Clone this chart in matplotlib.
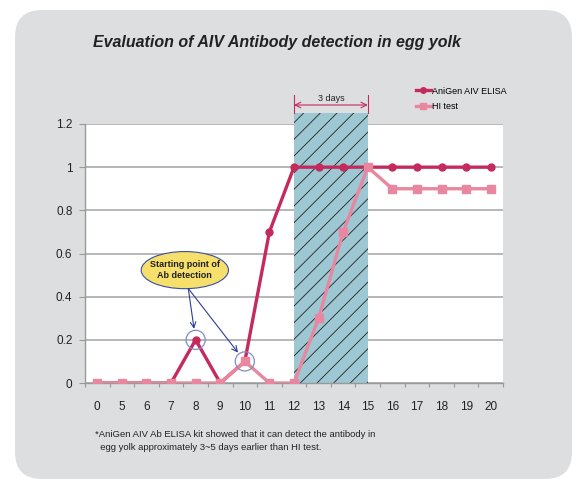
import numpy as np
import matplotlib.pyplot as plt
from matplotlib.patches import FancyBboxPatch, Ellipse, Rectangle

plt.rcParams['font.family'] = ['Liberation Sans', 'DejaVu Sans']
plt.rcParams['hatch.linewidth'] = 0.6

# data
days = ['0', '5', '6', '7', '8', '9', '10', '11', '12', '13', '14', '15',
        '16', '17', '18', '19', '20']
elisa = [0, 0, 0, 0, 0.2, 0, 0.1, 0.7, 1, 1, 1, 1, 1, 1, 1, 1, 1]
hi_test = [0, 0, 0, 0, 0, 0, 0.1, 0, 0, 0.3, 0.7, 1, 0.9, 0.9, 0.9, 0.9, 0.9]
window = ('12', '15')      # shaded "3 days" window
start_pts = ['8', '10']    # circled starting points

red = '#c42a5c'
pink = '#e8879f'
x = np.arange(len(days))

fig = plt.figure(figsize=(5.72, 4.79), dpi=100, facecolor='white')
# rounded gray panel
panel = FancyBboxPatch((0.15, 0.0), 5.57, 4.69, boxstyle='round,pad=0,rounding_size=0.27',
                       transform=fig.dpi_scale_trans, facecolor='#dddee0',
                       edgecolor='none', zorder=-5)
fig.patches.append(panel)

ax = fig.add_axes([85/572, 1-383/479, 418/572, 259/479])
ax.set_facecolor('white')

# shaded window
x0, x1 = days.index(window[0]), days.index(window[1])
ax.add_patch(Rectangle((x0, 0), x1-x0, 1.25, facecolor='#9dc7d3', edgecolor='#222222',
                       hatch='//', lw=0, clip_on=False, zorder=1))

# dimension marker "3 days"
ax.plot([x0, x0], [1.25, 1.335], color=red, lw=0.8, clip_on=False)
ax.plot([x1, x1], [1.25, 1.335], color=red, lw=0.8, clip_on=False)
ax.annotate('', xy=(x0, 1.288), xytext=(x1, 1.288),
            arrowprops=dict(arrowstyle='<->', color=red, lw=0.8,
                            shrinkA=0, shrinkB=0), annotation_clip=False)
ax.text((x0+x1)/2, 1.298, '3 days', ha='center', va='bottom', fontsize=6.5,
        color='#222222')

ax.plot(x, elisa, color=red, lw=2.4, marker='o', ms=5, label='AniGen AIV ELISA', zorder=3)
ax.plot(x, hi_test, color=pink, lw=2.4, marker='s', ms=6, label='HI test', zorder=4)

# starting point callout
for d in start_pts:
    i = days.index(d)
    yv = max(elisa[i], hi_test[i])
    ax.scatter([i], [yv], s=190, facecolor='none', edgecolor='#7f8ccc', lw=0.9, zorder=5)
ax.add_patch(Ellipse((3.56, 0.523), 3.55, 0.172, facecolor='#f6df6b',
                     edgecolor='#3b4ea8', lw=0.8, zorder=6))
ax.text(3.56, 0.523, 'Starting point of\nAb detection', ha='center', va='center',
        fontsize=6.5, fontweight='bold', color='#222222', linespacing=1.2, zorder=7)
for d in start_pts:
    i = days.index(d)
    yv = max(elisa[i], hi_test[i])
    ax.annotate('', xy=(i, yv), xytext=(3.7, 0.438),
                arrowprops=dict(arrowstyle='->', color='#2c3e9a', lw=0.8,
                                shrinkA=0, shrinkB=8), zorder=6)

ax.set_xlim(-0.5, len(days)-0.5)
ax.set_ylim(0, 1.2)
ax.set_yticks([0, 0.2, 0.4, 0.6, 0.8, 1, 1.2])
ax.set_yticklabels(['0', '0.2', '0.4', '0.6', '0.8', '1', '1.2'])
ax.yaxis.grid(True, color='#aaaaaa', lw=1.2)
ax.set_axisbelow(True)
ax.set_xticks(np.arange(-0.5, len(days), 1))
ax.set_xticklabels([])
ax.set_xticks(x, minor=True)
ax.set_xticklabels(days, minor=True)
ax.tick_params(axis='x', which='major', length=3, color='#999999', direction='out')
ax.tick_params(axis='x', which='minor', length=0, pad=13, labelsize=8.5, labelcolor='#222222')
ax.tick_params(axis='y', length=4, color='#999999', pad=5, labelsize=8.5, labelcolor='#222222')
for s in ['top', 'right']:
    ax.spines[s].set_visible(False)
for s in ['left', 'bottom']:
    ax.spines[s].set_color('#999999')
    ax.spines[s].set_linewidth(1.0)

leg = ax.legend(loc='upper left', bbox_to_anchor=(411/572, 1-82/479),
                bbox_transform=fig.transFigure, frameon=False, fontsize=6.5,
                handlelength=1.7, handletextpad=0.15, labelspacing=0.75, borderpad=0,
                markerscale=0.8)

fig.text(93/572, 1-42/479, 'Evaluation of AIV Antibody detection in egg yolk',
         fontsize=11.5, fontweight='bold', style='italic', va='center', color='#222222')
fig.text(95/572, 1-441/479,
         '*AniGen AIV Ab ELISA kit showed that it can detect the antibody in\n'
         '  egg yolk approximately 3~5 days earlier than HI test.',
         fontsize=6.8, va='center', color='#222222', linespacing=1.45)

fig.savefig('out.png', dpi=100, facecolor='white')
